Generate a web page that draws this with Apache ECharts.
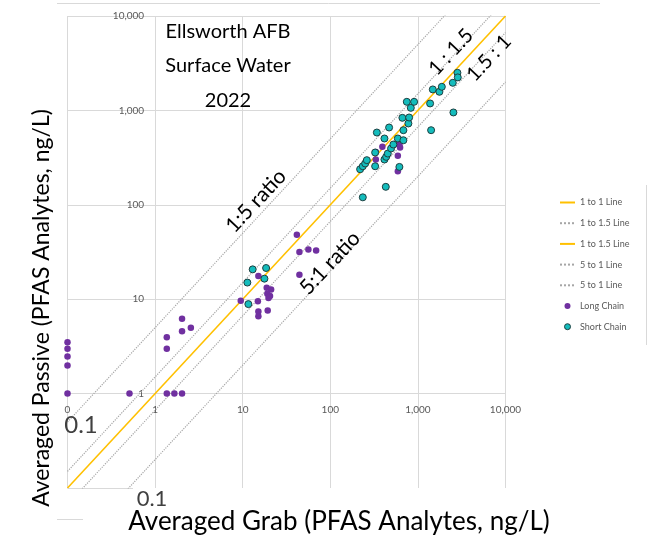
<!DOCTYPE html>
<html><head><meta charset="utf-8">
<script src="https://cdn.jsdelivr.net/npm/echarts@6/dist/echarts.min.js"></script>
<style>html,body{margin:0;padding:0;background:#fff}#c{width:649px;height:543px}</style>
</head><body><div id="c"></div>
<script>
// ---- data ----
const axisTickValues = [0.1, 1, 10, 100, 1000, 10000];
const xTickLabels = ['0', '1', '10', '100', '1,000', '10,000'];
const yTickLabels = ['', '1', '10', '100', '1,000', '10,000'];

const refLineNames = ['1 to 1 Line', '1 to 1.5 Line', '1 to 1.5 Line ', '5 to 1 Line', '5 to 1 Line '];
const refLineRatios = [1, 1.5, 1 / 1.5, 5, 1 / 5];

const longChainX = [0.1, 0.1, 0.1, 0.1, 0.1, 0.51, 1.36, 1.66, 2.03, 1.36, 1.36, 2.03, 2.03, 2.56,
  9.5, 41.5, 44.4, 56.2, 68.9, 44.4, 15.1, 14.9, 18.8, 21.1, 19.1, 20.5, 19.7, 15.1, 15.1, 19.3,
  393, 331, 331, 535, 615, 626, 590, 590];
const longChainY = [3.5, 2.98, 2.47, 1.98, 1, 1, 1, 1, 1, 3.96, 2.98, 6.2, 4.58, 4.98,
  9.63, 48.3, 31.6, 33.7, 32.9, 18.2, 17.6, 9.53, 13.2, 12.7, 11.4, 10.8, 10.3, 7.41, 6.61, 7.6,
  411, 363, 302, 435, 435, 405, 330, 227];

const shortChainX = [235, 430, 219, 235, 250, 261, 325, 325, 415, 434, 453, 494, 525, 590, 683, 615,
  340, 415, 469, 683, 779, 665, 794, 747, 830, 905, 1378, 1479, 1760, 1875, 2502, 2543, 2825, 2853, 1415,
  13.0, 18.5, 17.7, 11.3, 11.6];
const shortChainY = [120, 155, 238, 256, 274, 297, 256, 358, 302, 322, 349, 395, 435, 504, 483, 252,
  583, 504, 659, 617, 727, 834, 841, 1233, 1064, 1233, 1185, 1668, 1574, 1778, 1960, 951, 2503, 2237, 617,
  20.7, 21.4, 16.5, 15.0, 8.87];

// ---- chart ----
const FONT = 'Lato, "Liberation Sans", sans-serif';
const YELLOW = '#FFC000';
const DOTGRAY = '#A6A6A6';
const GRID = '#D9D9D9';
const PURPLE = '#7030A0';
const TEAL = '#14BCBC';

function tickLabel(labels) {
  return function (v) {
    const i = Math.round(Math.log10(v)) + 1;
    return labels[i] !== undefined ? labels[i] : '';
  };
}

const refStyles = [
  { color: YELLOW, type: 'solid', width: 1.6 },
  { color: DOTGRAY, type: 'dotted', width: 1.2 },
  { color: DOTGRAY, type: 'dotted', width: 1.2 },
  { color: DOTGRAY, type: 'dotted', width: 1.2 },
  { color: DOTGRAY, type: 'dotted', width: 1.2 }
];

const series = refLineNames.map((n, i) => ({
  name: n,
  type: 'line',
  symbol: 'none',
  showSymbol: false,
  silent: true,
  clip: true,
  lineStyle: refStyles[i],
  itemStyle: { color: refStyles[i].color },
  z: i === 0 ? 3 : 2,
  data: [[axisTickValues[0], axisTickValues[0] * refLineRatios[i]],
         [axisTickValues[5], axisTickValues[5] * refLineRatios[i]]]
}));

series.push({
  name: 'Long Chain', type: 'scatter', symbol: 'circle', symbolSize: 6.5, clip: false, z: 5,
  itemStyle: { color: PURPLE, opacity: 1 },
  data: longChainX.map((x, i) => [x, longChainY[i]])
});
series.push({
  name: 'Short Chain', type: 'scatter', symbol: 'circle', symbolSize: 7, clip: false, z: 6,
  itemStyle: { color: TEAL, borderColor: '#1E3F40', borderWidth: 1, opacity: 1 },
  data: shortChainX.map((x, i) => [x, shortChainY[i]])
});

function txt(text, x, y, size, rot, color) {
  return {
    type: 'text', x: x, y: y, rotation: (rot || 0) * Math.PI / 180, z: 20,
    style: {
      text: text, font: size + 'px ' + FONT, fill: color || '#000',
      align: 'center', verticalAlign: 'middle', textAlign: 'center', textVerticalAlign: 'middle'
    }
  };
}
function seg(x1, y1, x2, y2) {
  return { type: 'line', z: 1, shape: { x1: x1, y1: y1, x2: x2, y2: y2 },
    style: { stroke: GRID, lineWidth: 1 } };
}
const hideSym = { color: 'rgba(0,0,0,0)', borderColor: 'rgba(0,0,0,0)', borderWidth: 0, opacity: 0 };

const chart = echarts.init(document.getElementById('c'), null, { renderer: 'canvas' });
chart.setOption({
  animation: false,
  backgroundColor: '#fff',
  grid: { left: 67.5, top: 16, width: 438, height: 472, containLabel: false },
  xAxis: {
    type: 'log', logBase: 10, min: 0.1, max: 10000, position: 'bottom', offset: -94.4,
    axisLine: { show: false }, axisTick: { show: false },
    axisLabel: { formatter: tickLabel(xTickLabels), color: '#595959', fontSize: 10, fontFamily: FONT, margin: 11 },
    splitLine: { show: true, lineStyle: { color: GRID, width: 1 } }
  },
  yAxis: {
    type: 'log', logBase: 10, min: 0.1, max: 10000, position: 'left', offset: -87.6,
    axisLine: { show: false }, axisTick: { show: false },
    axisLabel: { formatter: tickLabel(yTickLabels), color: '#595959', fontSize: 10, fontFamily: FONT, margin: 11 },
    splitLine: { show: true, showMinLine: false, lineStyle: { color: GRID, width: 1 } }
  },
  legend: {
    orient: 'vertical', left: 554, top: 192, itemWidth: 15, itemHeight: 6, itemGap: 9.7,
    textStyle: { fontSize: 9, color: '#595959', fontFamily: FONT, lineHeight: 11 },
    formatter: n => n.trim(),
    selectedMode: false,
    data: [
      { name: '1 to 1 Line', itemStyle: hideSym },
      { name: '1 to 1.5 Line', itemStyle: hideSym },
      { name: '1 to 1.5 Line ', lineStyle: { color: YELLOW, type: 'solid', width: 2 }, itemStyle: hideSym },
      { name: '5 to 1 Line', itemStyle: hideSym },
      { name: '5 to 1 Line ', itemStyle: hideSym },
      { name: 'Long Chain', icon: 'circle', itemStyle: { color: PURPLE } },
      { name: 'Short Chain', icon: 'circle', itemStyle: { color: TEAL, borderColor: '#1E3F40', borderWidth: 1 } }
    ]
  },
  series: series,
  graphic: [
    seg(57, 3.5, 600, 3.5),
    seg(646.5, 185, 646.5, 345),
    seg(57, 519.5, 83, 519.5),
    seg(67.5, 488.5, 133, 488.5),
    txt('Ellsworth AFB', 228, 32, 20),
    txt('Surface Water', 228, 66, 20),
    txt('2022', 228, 101, 20),
    txt('1:5 ratio', 256, 201, 21, 47),
    txt('5:1 ratio', 330, 263, 21, 47),
    txt('1 : 1.5', 451, 52, 20, 47),
    txt('1.5 : 1', 489, 58, 20, 47),
    txt('0.1', 81, 425, 24, 0, '#404040'),
    txt('0.1', 152, 499, 22, 0, '#404040'),
    txt('Averaged Passive (PFAS Analytes, ng/L)', 42, 308, 23, 90),
    txt('Averaged Grab (PFAS Analytes, ng/L)', 339, 522, 26, 0)
  ]
});
</script>
</body></html>
